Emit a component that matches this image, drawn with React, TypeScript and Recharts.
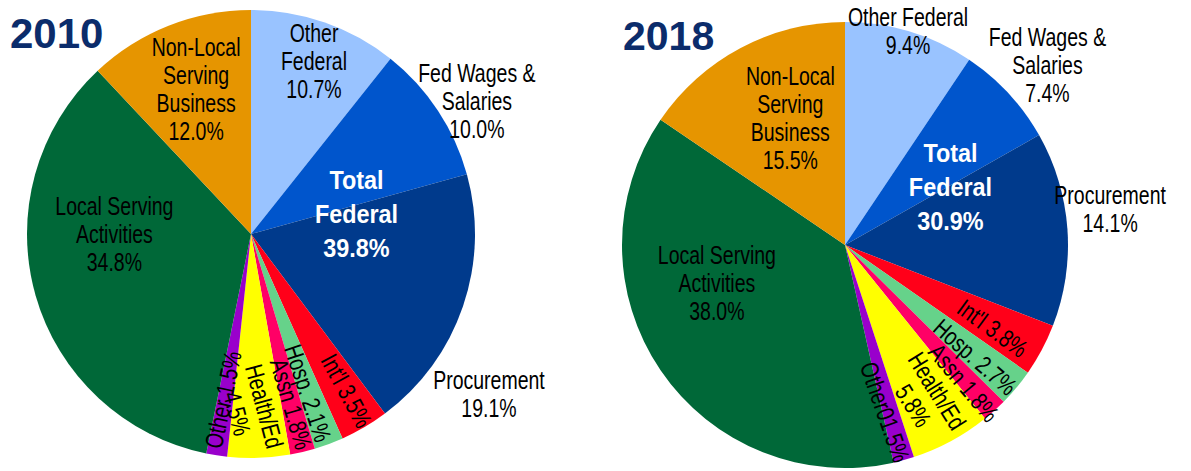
import React from 'react';
import { PieChart, Pie, Cell } from 'recharts';

const categories = [
  'Other Federal',
  'Fed Wages & Salaries',
  'Procurement',
  "Int'l",
  'Hosp.',
  'Assn',
  'Health/Ed',
  'Other',
  'Local Serving Activities',
  'Non-Local Serving Business',
];
const values2010 = [10.7, 10.0, 19.1, 3.5, 2.1, 1.8, 4.5, 1.5, 34.8, 12.0];
const values2018 = [9.4, 7.4, 14.1, 3.8, 2.7, 1.8, 5.8, 1.5, 38.0, 15.5];

const labels2010 = [
  ['Other', 'Federal', '10.7%'],
  ['Fed Wages &', 'Salaries', '10.0%'],
  ['Procurement', '19.1%'],
  ["Int'l 3.5%"],
  ['Hosp. 2.1%'],
  ['Assn 1.8%'],
  ['Health/Ed', '4.5%'],
  ['Other 1.5%'],
  ['Local Serving', 'Activities', '34.8%'],
  ['Non-Local', 'Serving', 'Business', '12.0%'],
];
const labels2018 = [
  ['Other Federal', '9.4%'],
  ['Fed Wages &', 'Salaries', '7.4%'],
  ['Procurement', '14.1%'],
  ["Int'l 3.8%"],
  ['Hosp. 2.7%'],
  ['Assn 1.8%'],
  ['Health/Ed', '5.8%'],
  ['Other01.5%'],
  ['Local Serving', 'Activities', '38.0%'],
  ['Non-Local', 'Serving', 'Business', '15.5%'],
];

const colors = [
  '#99C3FF', '#0055CC', '#003A8C', '#FF0019', '#66D28A',
  '#FF0066', '#FFFF00', '#9900CC', '#006838', '#E69500',
];

// label placement: angle shift from slice middle (deg), radius as fraction of outer radius,
// rot = rotate along the radius (+ extra degrees)
type Place = { da: number; r: number; rot?: number | null };
const place2010: Place[] = [
  { da: 0.8, r: 0.82 },
  { da: 3, r: 1.17 },
  { da: 15, r: 1.28 },
  { da: -1, r: 0.82, rot: 2 },
  { da: 0.6, r: 0.755, rot: 2 },
  { da: 0, r: 0.78, rot: -3 },
  { da: 2, r: 0.785, rot: -13 },
  { da: 0.8, r: 0.75, rot: 3 },
  { da: 16, r: 0.61 },
  { da: 0.8, r: 0.69 },
];
const place2018: Place[] = [
  { da: -0.5, r: 1.0 },
  { da: 1.2, r: 1.215 },
  { da: -3.6, r: 1.2 },
  { da: 1.3, r: 0.76, rot: 8 },
  { da: 0.9, r: 0.77, rot: 1.5 },
  { da: 1.3, r: 0.816, rot: 2 },
  { da: 0.8, r: 0.776, rot: -3.5 },
  { da: 1.8, r: 0.77, rot: -4 },
  { da: 17.5, r: 0.6 },
  { da: 4.6, r: 0.62 },
];

const FONT = '"Liberation Sans", Arial, sans-serif';

const toData = (vals: number[]) => categories.map((name, i) => ({ name, value: vals[i] }));
const data2010 = toData(values2010);
const data2018 = toData(values2018);

const fedTotal = (vals: number[]) => vals.slice(0, 3).reduce((a, b) => a + b, 0);

function Lines({ x, y, rot, lines, size, lh, weight, fill, sx }: any) {
  const start = -((lines.length - 1) / 2) * lh;
  return (
    <g transform={`translate(${x},${y}) rotate(${rot}) scale(${sx},1)`}>
      <text
        textAnchor="middle"
        dominantBaseline="central"
        fontFamily={FONT}
        fontSize={size}
        fontWeight={weight}
        fill={fill}
      >
        {lines.map((l: string, i: number) => (
          <tspan key={i} x={0} y={start + i * lh}>
            {l}
          </tspan>
        ))}
      </text>
    </g>
  );
}

const makeLabel = (labels: string[][], places: Place[], vals: number[], fedShift: number, fedR: number) =>
  (props: any) => {
    const { cx, cy, midAngle, outerRadius, index } = props;
    const p = places[index];
    const clockMid = 90 - midAngle;
    const a = ((clockMid + p.da) * Math.PI) / 180;
    const x = cx + outerRadius * p.r * Math.sin(a);
    const y = cy - outerRadius * p.r * Math.cos(a);
    let rot = 0;
    if (p.rot != null) {
      rot = clockMid - 90;
      if (rot > 90) rot -= 180;
      rot += p.rot;
    }
    const label = (
      <Lines key="l" x={x} y={y} rot={rot} lines={labels[index]} size={25} lh={28} weight="normal" fill="#000" sx={0.78} />
    );
    if (index !== 2) return label;
    // Total Federal group label, placed at the middle of the first three slices
    const total = fedTotal(vals);
    const fedMid = (((total / 2) / 100) * 360 + fedShift) * Math.PI / 180;
    const fx = cx + outerRadius * fedR * Math.sin(fedMid);
    const fy = cy - outerRadius * fedR * Math.cos(fedMid);
    return (
      <g>
        {label}
        <Lines
          x={fx}
          y={fy}
          rot={0}
          lines={['Total', 'Federal', `${total.toFixed(1)}%`]}
          size={26}
          lh={34}
          weight="bold"
          fill="#fff"
          sx={0.9}
        />
      </g>
    );
  };

export default function App() {
  return (
    <div style={{ position: 'absolute', left: 0, top: 0, width: 1191, height: 471, background: '#fff' }}>
      <PieChart width={1191} height={471} margin={{ top: 0, right: 0, bottom: 0, left: 0 }}>
        <Pie
          data={data2010}
          dataKey="value"
          cx={251}
          cy={234}
          outerRadius={224}
          startAngle={90}
          endAngle={-270}
          stroke="none"
          labelLine={false}
          label={makeLabel(labels2010, place2010, values2010, 7.2, 0.48)}
          isAnimationActive={false}
        >
          {data2010.map((d, i) => (
            <Cell key={d.name} fill={colors[i]} />
          ))}
        </Pie>
        <Pie
          data={data2018}
          dataKey="value"
          cx={845}
          cy={245}
          outerRadius={223}
          startAngle={90}
          endAngle={-270}
          stroke="none"
          labelLine={false}
          label={makeLabel(labels2018, place2018, values2018, 5.5, 0.54)}
          isAnimationActive={false}
        >
          {data2018.map((d, i) => (
            <Cell key={d.name} fill={colors[i]} />
          ))}
        </Pie>
      </PieChart>
      <svg width={1191} height={471} style={{ position: 'absolute', left: 0, top: 0, pointerEvents: 'none' }}>
        <text x={10} y={48} fontFamily={FONT} fontSize={42} fontWeight="bold" fill="#0B2C6B">
          2010
        </text>
        <text x={623} y={50} fontFamily={FONT} fontSize={41} fontWeight="bold" fill="#0B2C6B">
          2018
        </text>
      </svg>
    </div>
  );
}
